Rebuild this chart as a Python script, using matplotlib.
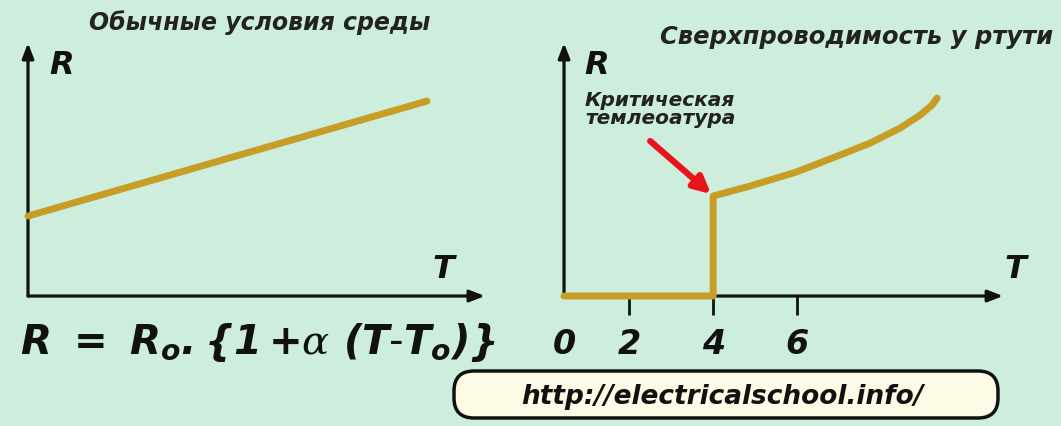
import numpy as np
import matplotlib
matplotlib.use("Agg")
import matplotlib.pyplot as plt
from matplotlib.patches import FancyBboxPatch

# --- data ---
# left panel: normal conditions, linear R(T)
T_norm = [0.0, 9.5]
R_norm = [8.0, 19.5]

# right panel: mercury superconductivity
T_sc = [0.45, 4.0, 4.0, 4.88, 5.98, 7.02, 7.74, 8.45, 8.93, 9.21, 9.33]
R_sc = [0.0, 0.0, 10.0, 11.0, 12.4, 14.1, 15.3, 16.8, 18.1, 19.1, 19.8]
tick_vals = [0.45, 2, 4, 6]
tick_labels = ["0", "2", "4", "6"]

crit_T, crit_R = 4.0, 10.0

BG = "#ceeedd"
GOLD = "#c89d26"
FONT = dict(family="DejaVu Sans", weight="bold", style="italic")

plt.rcParams["mathtext.fontset"] = "custom"
plt.rcParams["mathtext.it"] = "DejaVu Sans:bold:italic"
plt.rcParams["mathtext.rm"] = "DejaVu Sans:bold:italic"
plt.rcParams["mathtext.sf"] = "DejaVu Serif:italic"

fig = plt.figure(figsize=(10.61, 4.27), dpi=100, facecolor=BG)

ax1 = fig.add_axes([0.0264, 0.3044, 0.4307, 0.5925])
ax2 = fig.add_axes([0.5316, 0.3044, 0.4138, 0.5925])

for ax in (ax1, ax2):
    ax.set_facecolor("none")
    for s in ax.spines.values():
        s.set_visible(False)
    ax.set_ylim(0, 25.3)
    ax.set_yticks([])
    # axis arrows
    arr = dict(arrowstyle="-|>,head_length=0.9,head_width=0.35", color="#111111",
               lw=2.3, shrinkA=0, shrinkB=0)
    ax.annotate("", xy=(1, 0), xytext=(0, 0), xycoords="axes fraction",
                arrowprops=arr, annotation_clip=False)
    ax.annotate("", xy=(0, 1), xytext=(0, 0), xycoords="axes fraction",
                arrowprops=arr, annotation_clip=False)

ax1.set_xlim(0, 10.88)
ax1.set_xticks([])
ax2.set_xlim(0.45, 10.9)

ax1.plot(T_norm, R_norm, color=GOLD, lw=5, solid_capstyle="round", clip_on=False, zorder=3)
ax2.plot(T_sc, R_sc, color=GOLD, lw=5, solid_capstyle="round",
         solid_joinstyle="round", clip_on=False, zorder=3)

ax2.set_xticks(tick_vals)
ax2.set_xticklabels(tick_labels, fontsize=24, color="#111111", **FONT)
ax2.tick_params(axis="x", length=14, width=2, color="#111111", pad=8)
ax2.xaxis.get_major_ticks()[0].tick1line.set_visible(False)

# axis labels
for ax, rx, tx in ((ax1, 0.074, 0.91), (ax2, 0.075, 1.027)):
    ax.text(rx, 0.917, "R", transform=ax.transAxes, fontsize=23, ha="center",
            va="center", color="#111111", **FONT)
    ax.text(tx, 0.107, "T", transform=ax.transAxes, fontsize=23, ha="center",
            va="center", color="#111111", **FONT)

# critical temperature annotation
ax2.text(0.95, 20.6, "Критическая\nтемлеоатура", fontsize=14.5, ha="left", va="top",
         color="#222222", linespacing=0.95, **FONT)
ax2.annotate("", xy=(crit_T - 0.05, crit_R + 0.2), xytext=(2.5, 15.5),
             arrowprops=dict(arrowstyle="-|>,head_length=1.0,head_width=0.5",
                             color="#e8141a", lw=4.5, shrinkA=0, shrinkB=0))

# titles
fig.text(0.245, 0.948, "Обычные условия среды", fontsize=17, ha="center",
         va="center", color="#222222", **FONT)
fig.text(0.807, 0.913, "Сверхпроводимость у ртути", fontsize=17.5, ha="center",
         va="center", color="#222222", **FONT)

# formula
fig.text(0.243, 0.199,
         r"$R\ =\ R_{o}.\{1\,{+}\mathsf{\alpha}\ (T$‐$T_{o})\}$",
         fontsize=29, ha="center", va="center", color="#111111")

# url box
box = FancyBboxPatch((4.54, 0.08), 5.44, 0.47,
                     boxstyle="round,pad=0,rounding_size=0.2",
                     transform=fig.dpi_scale_trans, facecolor="#fdfbe6",
                     edgecolor="#111111", lw=2.5)
fig.patches.append(box)
fig.text(0.681, 0.07, "http://electricalschool.info/", fontsize=19, ha="center",
         va="center", color="#111111", **FONT)

fig.savefig("out.png", dpi=100, facecolor=BG)
